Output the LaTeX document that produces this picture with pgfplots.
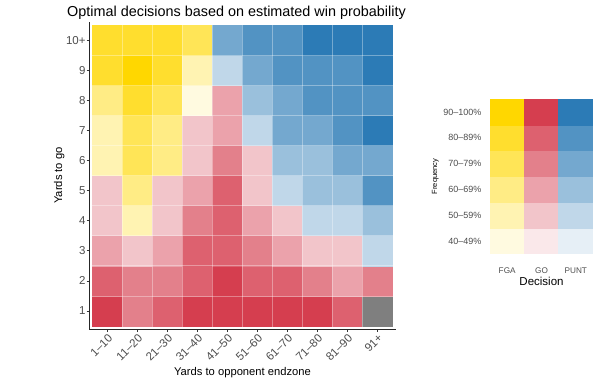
\documentclass[border=0pt]{standalone}
\usepackage{fontspec}
\setmainfont{Liberation Sans}
\usepackage{pgfplots}
\pgfplotsset{compat=1.18}
\definecolor{fga}{HTML}{FFD700}
\definecolor{go}{HTML}{D53E4F}
\definecolor{punt}{HTML}{2C7BB6}
\definecolor{nodec}{HTML}{7F7F7F}
\definecolor{txt}{HTML}{4D4D4D}
% frequency levels: 40-49 ... 90-100 as share of full colour
\colorlet{f1}{fga!12!white}\colorlet{f2}{fga!30!white}\colorlet{f3}{fga!48!white}
\colorlet{f4}{fga!66!white}\colorlet{f5}{fga!82!white}\colorlet{f6}{fga}
\colorlet{g1}{go!12!white}\colorlet{g2}{go!30!white}\colorlet{g3}{go!48!white}
\colorlet{g4}{go!66!white}\colorlet{g5}{go!82!white}\colorlet{g6}{go}
\colorlet{p1}{punt!12!white}\colorlet{p2}{punt!30!white}\colorlet{p3}{punt!48!white}
\colorlet{p4}{punt!66!white}\colorlet{p5}{punt!82!white}\colorlet{p6}{punt}
\pgfplotsset{
  colormap={decision}{color=(f1) color=(f2) color=(f3) color=(f4) color=(f5) color=(f6)
    color=(g1) color=(g2) color=(g3) color=(g4) color=(g5) color=(g6)
    color=(p1) color=(p2) color=(p3) color=(p4) color=(p5) color=(p6) color=(nodec)},
}

% x: yards to endzone bin, y: yards to go bin, c: colour index (decision*6 + level)
\pgfplotstableread{
x y c
0 0 11
1 0 9
2 0 10
3 0 11
4 0 11
5 0 11
6 0 11
7 0 11
8 0 10
9 0 18
0 1 10
1 1 9
2 1 9
3 1 10
4 1 11
5 1 10
6 1 10
7 1 9
8 1 8
9 1 9
0 2 8
1 2 7
2 2 8
3 2 10
4 2 10
5 2 9
6 2 8
7 2 7
8 2 7
9 2 13
0 3 7
1 3 1
2 3 7
3 3 9
4 3 10
5 3 8
6 3 7
7 3 13
8 3 13
9 3 14
0 4 7
1 4 2
2 4 7
3 4 8
4 4 10
5 4 7
6 4 13
7 4 14
8 4 14
9 4 16
0 5 1
1 5 3
2 5 2
3 5 7
4 5 9
5 5 7
6 5 14
7 5 14
8 5 15
9 5 15
0 6 1
1 6 3
2 6 2
3 6 7
4 6 8
5 6 13
6 6 15
7 6 15
8 6 16
9 6 17
0 7 2
1 7 4
2 7 3
3 7 0
4 7 8
5 7 14
6 7 15
7 7 16
8 7 16
9 7 16
0 8 4
1 8 5
2 8 4
3 8 1
4 8 13
5 8 15
6 8 16
7 8 16
8 8 16
9 8 17
0 9 4
1 9 4
2 9 4
3 9 3
4 9 15
5 9 16
6 9 16
7 9 17
8 9 17
9 9 17
}\decisions

\pgfplotstableread{
x y c
0 0 0
1 0 6
2 0 12
0 1 1
1 1 7
2 1 13
0 2 2
1 2 8
2 2 14
0 3 3
1 3 9
2 3 15
0 4 4
1 4 10
2 4 16
0 5 5
1 5 11
2 5 17
}\legendkey

\begin{document}
\begin{tikzpicture}
\path[use as bounding box] (0,0) rectangle (598pt,380pt);
\node[anchor=base west, inner sep=0pt, font=\fontsize{14.4}{14.4}\selectfont] at (67pt,363pt)
  {Optimal decisions based on estimated win probability};

\begin{axis}[
  at={(89.5pt,51pt)}, anchor=south west,
  scale only axis, width=306pt, height=307pt,
  xmin=-0.6, xmax=9.6, ymin=-0.6, ymax=9.6,
  axis x line*=bottom, axis y line*=left,
  axis line style={black!85, line width=0.8pt, -},
  axis on top,
  xtick={0,...,9}, ytick={0,...,9},
  xticklabels={1–10,11–20,21–30,31–40,41–50,51–60,61–70,71–80,81–90,91+},
  yticklabels={1,2,3,4,5,6,7,8,9,10+},
  minor xtick={0.5,1.5,...,8.5}, minor ytick={0.5,1.5,...,8.5},
  xminorgrids, yminorgrids,
  minor grid style={white, opacity=0.35, line width=0.6pt},
  minor tick length=0pt,
  tick align=outside, major tick length=2.75pt,
  tick style={black!80, line width=0.6pt},
  xticklabel style={rotate=45, anchor=north east, inner sep=1pt, text=txt, font=\fontsize{11.5}{11.5}\selectfont},
  yticklabel style={inner sep=1pt, text=txt, font=\fontsize{11.5}{11.5}\selectfont},
  xlabel={Yards to opponent endzone}, ylabel={Yards to go},
  label style={font=\fontsize{11.2}{11.2}\selectfont},
  xlabel style={yshift=-1pt},
  ylabel style={yshift=-3pt},
  colormap name=decision, colormap access=direct,
]
\addplot[matrix plot*, mesh/cols=10, point meta=explicit] table[meta=c] {\decisions};
\end{axis}

\begin{axis}[
  at={(490pt,126pt)}, anchor=south west,
  scale only axis, width=103pt, height=155pt,
  xmin=-0.5, xmax=2.5, ymin=-0.5, ymax=5.5,
  axis line style={draw=none},
  major tick length=0pt,
  xtick={0,1,2}, ytick={0,...,5},
  xticklabels={FGA,GO,PUNT},
  yticklabels={40–49\%,50–59\%,60–69\%,70–79\%,80–89\%,90–100\%},
  xticklabel style={text=txt, font=\fontsize{8.2}{8.2}\selectfont, yshift=-10pt},
  yticklabel style={text=txt, font=\fontsize{9}{9}\selectfont, xshift=-5pt},
  xlabel={Decision}, ylabel={Frequency},
  xlabel style={font=\fontsize{11.5}{11.5}\selectfont, yshift=3pt},
  ylabel style={font=\fontsize{7.5}{7.5}\selectfont, yshift=-2pt},
  colormap name=decision, colormap access=direct,
]
\addplot[matrix plot*, mesh/cols=3, point meta=explicit] table[meta=c] {\legendkey};
\end{axis}
\end{tikzpicture}
\end{document}
